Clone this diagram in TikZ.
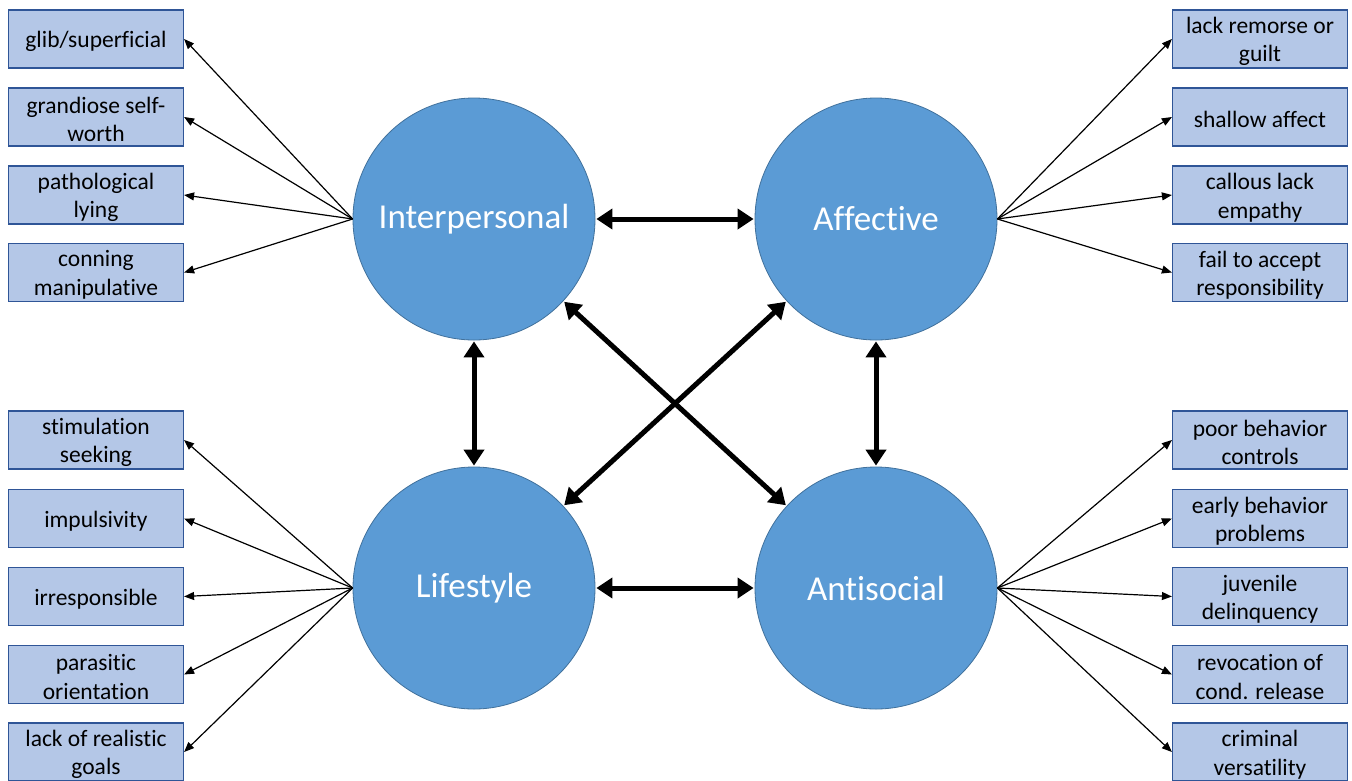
\documentclass[tikz,border=0pt]{standalone}
\usepackage{fontspec}
\setmainfont{Carlito}[Ligatures={NoCommon}]
\usetikzlibrary{arrows.meta}
\definecolor{circfill}{HTML}{5B9BD5}
\definecolor{circline}{HTML}{41719C}
\definecolor{boxfill}{HTML}{B4C7E7}
\definecolor{boxline}{HTML}{2F5597}
\tikzset{
  factor/.style={circle, fill=circfill, draw=circline, line width=0.8pt, minimum size=242pt, inner sep=0pt, text=white, font=\fontsize{35}{42}\selectfont},
  item/.style={rectangle, fill=boxfill, draw=boxline, line width=1.2pt, minimum width=175pt, minimum height=58pt, inner sep=0pt,
    label={[align=center, font=\fontsize{23.5}{28.5}\selectfont, yshift=-2.5pt]center:#1}},
  thin/.style={-{Triangle[length=10pt,width=8pt]}, line width=1.2pt, black},
  thick/.style={{Triangle[length=16pt,width=20pt]}-{Triangle[length=16pt,width=20pt]}, line width=5pt, black, shorten <=1pt, shorten >=1pt}
}
\begin{document}
\begin{tikzpicture}[x=1pt,y=-1pt]
\useasboundingbox (0,0) rectangle (1352,780);
\clip (0,0) rectangle (1352,780);
% factors
\node[factor] (I) at (474,219) {Interpersonal};
\node[factor] (A) at (876,219) {Affective};
\node[factor] (L) at (474,588) {Lifestyle};
\node[factor] (S) at (876,588) {Antisocial};
% left-top items
\node[item={glib/superficial}] (i1) at (96,39) {};
\node[item={grandiose self-\\worth}] (i2) at (96,117) {};
\node[item={pathological\\lying}] (i3) at (96,195) {};
\node[item={conning\\manipulative}] (i4) at (96,272.5) {};
% right-top items
\node[item={lack remorse or\\guilt}] (a1) at (1260,39) {};
\node[item={shallow affect}] (a2) at (1260,117) {};
\node[item={callous lack\\empathy}] (a3) at (1260,195) {};
\node[item={fail to accept\\responsibility}] (a4) at (1260,272.5) {};
% left-bottom items
\node[item={stimulation\\seeking}] (l1) at (96,440) {};
\node[item={impulsivity}] (l2) at (96,518.5) {};
\node[item={irresponsible}] (l3) at (96,596.5) {};
\node[item={parasitic\\orientation}] (l4) at (96,674.5) {};
\node[item={lack of realistic\\goals}] (l5) at (96,752) {};
% right-bottom items
\node[item={poor behavior\\controls}] (s1) at (1260,440) {};
\node[item={early behavior\\problems}] (s2) at (1260,518.5) {};
\node[item={juvenile\\delinquency}] (s3) at (1260,596.5) {};
\node[item={revocation of\\cond. release}] (s4) at (1260,674.5) {};
\node[item={criminal\\versatility}] (s5) at (1260,752) {};
% fan arrows
\foreach \b in {i1,i2,i3,i4} \draw[thin] (I.west) -- (\b.east);
\foreach \b in {a1,a2,a3,a4} \draw[thin] (A.east) -- (\b.west);
\foreach \b in {l1,l2,l3,l4,l5} \draw[thin] (L.west) -- (\b.east);
\foreach \b in {s1,s2,s3,s4,s5} \draw[thin] (S.east) -- (\b.west);
% factor connections
\draw[thick] (I) -- (A);
\draw[thick] (L) -- (S);
\draw[thick] (I) -- (L);
\draw[thick] (A) -- (S);
\draw[thick] (I) -- (S);
\draw[thick] (A) -- (L);
\end{tikzpicture}
\end{document}
